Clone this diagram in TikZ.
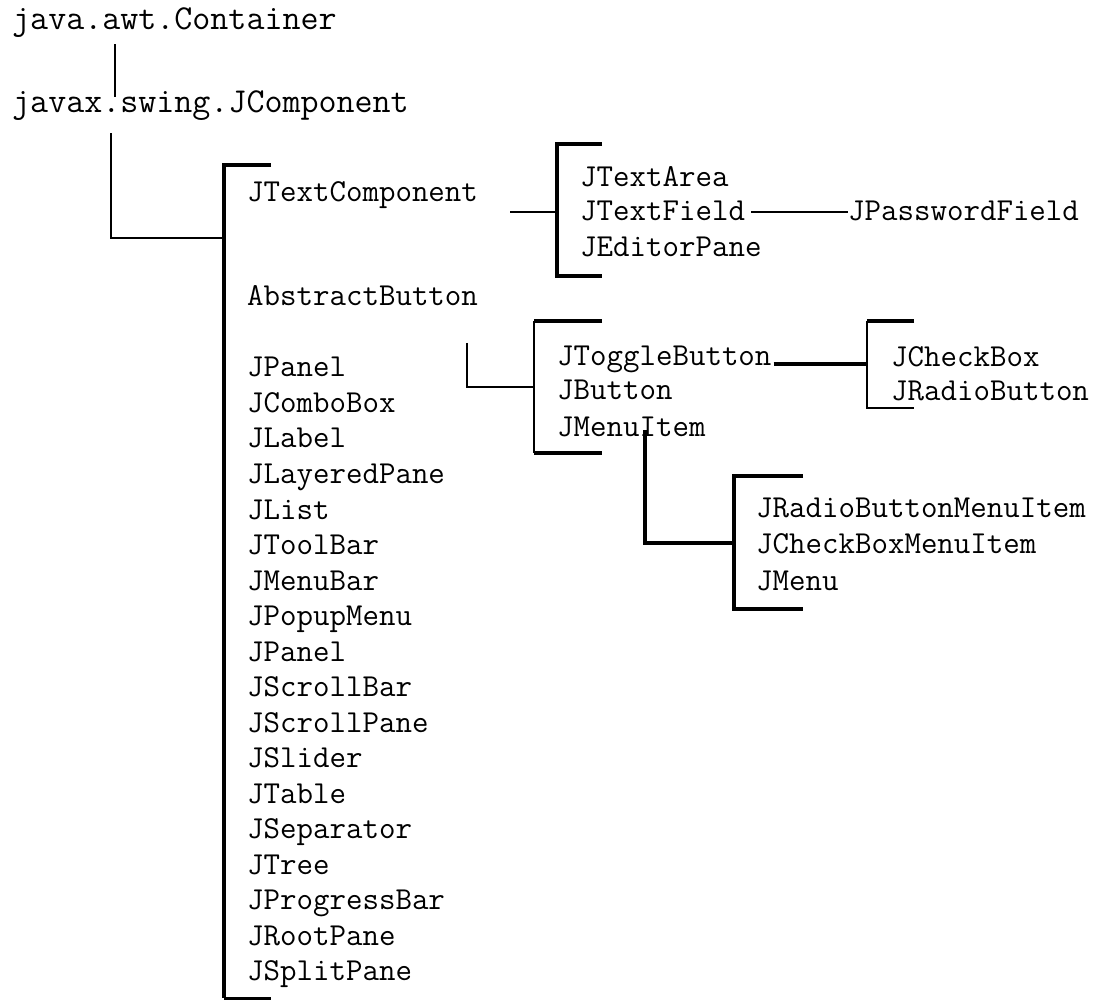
\documentclass[tikz,border=0pt]{standalone}
\usepackage{fontspec}
\begin{document}
\begin{tikzpicture}[x=1pt,y=-1pt,
  lbl/.style={anchor=base west,inner sep=0pt,font=\fontsize{32pt}{34pt}\selectfont\ttfamily},
  toplbl/.style={anchor=base west,inner sep=0pt,font=\fontsize{35pt}{37pt}\selectfont\ttfamily},
  thinline/.style={line width=1.8pt},
  midline/.style={line width=2.6pt},
  thickline/.style={line width=3.8pt}]
\useasboundingbox[fill=white] (0,0) rectangle (1096,1000);

% ---- labels ----
\node[toplbl] (cont) at (12,30) {java.awt.Container};
\node[toplbl] (jcomp) at (12,113) {javax.swing.JComponent};

\node[lbl] (jtextcomp) at (247,202) {JTextComponent};
\node[lbl] (abtn) at (247,306) {AbstractButton};
\foreach \t [count=\i from 0] in {JPanel,JComboBox,JLabel,JLayeredPane,JList,JToolBar,JMenuBar,JPopupMenu,JPanel,JScrollBar,JScrollPane,JSlider,JTable,JSeparator,JTree,JProgressBar,JRootPane,JSplitPane}
  \node[lbl] (L\i) at (247,377+35.5*\i) {\t};

\node[lbl] (jta) at (580,187) {JTextArea};
\node[lbl] (jtf) at (580,221) {JTextField};
\node[lbl] (jep) at (580,257) {JEditorPane};
\node[lbl] (jpf) at (848,221) {JPasswordField};

\node[lbl] (jtb) at (557,366) {JToggleButton};
\node[lbl] (jb)  at (557,400) {JButton};
\node[lbl] (jmi) at (557,436) {JMenuItem};

\node[lbl] (jcb) at (891,367) {JCheckBox};
\node[lbl] (jrb) at (891,401) {JRadioButton};

\node[lbl] (jrbmi) at (756,517) {JRadioButtonMenuItem};
\node[lbl] (jcbmi) at (756,553) {JCheckBoxMenuItem};
\node[lbl] (jmenu) at (756,590) {JMenu};

% ---- bracket junctions ----
\coordinate (j1) at (224,238);
\coordinate (j2) at (557,212);
\coordinate (j3) at (534,387);
\coordinate (j4) at (867,364);
\coordinate (j5) at (734,543);

% ---- brackets ----
\draw[thickline] (271,165) -- (224,165) -- (224,998);
\draw[line width=3pt] (224,998) -- (271,998);
\draw[thickline] (602,144) -- (557,144) -- (557,276) -- (602,276);
\draw[thickline] (602,321) -- (534,321);
\draw[midline] (534,321) -- (534,453);
\draw[thickline] (534,453) -- (602,453);
\draw[thickline] (914,321) -- (867,321);
\draw[thinline] (867,321) -- (867,408) -- (914,408);
\draw[thickline] (803,476) -- (734,476) -- (734,609) -- (803,609);

% ---- connectors ----
\draw[thinline] ([xshift=103pt,yshift=-6pt]cont.south west) -- ([xshift=103pt,yshift=-6pt]jcomp.north west);
\draw[thinline] ([xshift=99pt,yshift=-12pt]jcomp.south west) |- (j1);
\draw[thinline] (j2) -- ([xshift=32pt]j2 -| jtextcomp.east);
\draw[thinline] ([xshift=6pt,yshift=9pt]jtf.base east) -- ([yshift=9pt]jpf.base west);
\draw[midline] ([xshift=-11pt,yshift=-37pt]abtn.base east) |- (j3);
\draw[thickline] ([xshift=2pt,yshift=2pt]jtb.base east) -- (j4);
\draw[thickline] ([xshift=88pt,yshift=6pt]jmi.base west) |- (j5);
\end{tikzpicture}
\end{document}
